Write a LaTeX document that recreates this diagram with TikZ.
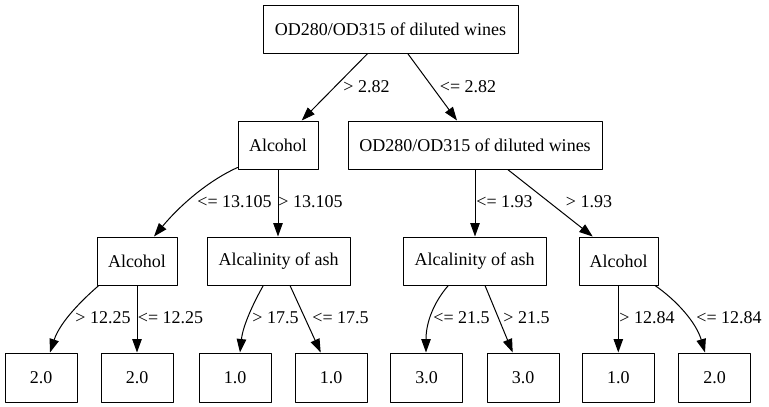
\documentclass[tikz,border=0pt]{standalone}
\usepackage{fontspec}
\setmainfont{Liberation Serif}
\usetikzlibrary{arrows.meta}
\usetikzlibrary{positioning}

\begin{document}
\begin{tikzpicture}[line cap=round,line join=round,x=1pt,y=-1pt,
  font=\fontsize{18}{22}\selectfont,
  split/.style={draw, line width=1pt, inner sep=0pt, minimum height=48pt},
  leaf/.style={draw, line width=1pt, inner sep=0pt, minimum height=49pt, minimum width=72pt},
  edge/.style={line width=1pt, -{Triangle[length=13.5pt, width=9.5pt]}}]
\useasboundingbox (0,0) rectangle (769,407);
% splits
\node [split, minimum width=255pt] (root) at (390.5,29) {OD280/OD315 of diluted wines};
\node [split, minimum width=80pt] (alc1) at (278,145) {Alcohol};
\node [split, minimum width=254pt] (od1) at (475,145) {OD280/OD315 of diluted wines};
\node [split, minimum width=80pt] (alc2) at (137,261) {Alcohol};
\node [split, minimum width=143pt] (ash2) at (278.5,261) {Alcalinity of ash};
\node [split, minimum width=143pt] (ash3) at (474.5,261) {Alcalinity of ash};
\node [split, minimum width=79pt] (alc3) at (618.5,261) {Alcohol};
% leaves
\node [leaf] (l1) at (41,377.5) {2.0};
\node [leaf] (l2) at (137,377.5) {2.0};
\node [leaf] (l3) at (235,377.5) {1.0};
\node [leaf] (l4) at (331,377.5) {1.0};
\node [leaf] (l5) at (426.5,377.5) {3.0};
\node [leaf] (l6) at (523,377.5) {3.0};
\node [leaf] (l7) at (618.3,377.5) {1.0};
\node [leaf] (l8) at (714.5,377.5) {2.0};
% edges
\draw [edge] ([xshift=-22.8pt]root.south) -- ([xshift=23.7pt]alc1.north);
\draw [edge] ([xshift=17.2pt]root.south) -- ([xshift=-18pt]od1.north);
\draw [edge] ([yshift=2pt]alc1.south west) .. controls (210,180) and (182,203) .. ([xshift=17pt]alc2.north);
\draw [edge] (alc1.south) -- (alc1.south |- ash2.north);
\draw [edge] (od1.south) -- (od1.south |- ash3.north);
\draw [edge] ([xshift=32.7pt]od1.south) -- ([xshift=-25.8pt]alc3.north);
\draw [edge] ([xshift=2.3pt]alc2.south west) .. controls (82,300) and (60,322) .. ([xshift=9pt]l1.north);
\draw [edge] (alc2.south) -- (alc2.south |- l2.north);
\draw [edge] ([xshift=-15.2pt]ash2.south) .. controls (254,302) and (243,325) .. ([xshift=5pt]l3.north);
\draw [edge] ([xshift=11.5pt]ash2.south) -- ([xshift=-10.3pt]l4.north);
\draw [edge] ([xshift=-26.2pt]ash3.south) .. controls (434,302) and (426,322) .. ([xshift=-0.5pt]l5.north);
\draw [edge] ([xshift=10.5pt]ash3.south) -- ([xshift=-10.3pt]l6.north);
\draw [edge] ([xshift=-0.2pt]alc3.south) -- ([xshift=-0.2pt]alc3.south |- l7.north);
\draw [edge] ([xshift=36.5pt]alc3.south) .. controls (676,300) and (696,322) .. ([xshift=-9.5pt]l8.north);
% labels
\draw (366.5,87) node {> 2.82};
\draw (468,87) node {<= 2.82};
\draw (234.5,202) node {<= 13.105};
\draw (310.5,202) node {> 13.105};
\draw (504.5,202) node {<= 1.93};
\draw (589,202) node {> 1.93};
\draw (103,318) node {> 12.25};
\draw (170.5,318) node {<= 12.25};
\draw (275.5,318) node {> 17.5};
\draw (340.5,318) node {<= 17.5};
\draw (461.5,318) node {<= 21.5};
\draw (526.5,318) node {> 21.5};
\draw (647,318) node {> 12.84};
\draw (729,318) node {<= 12.84};
\end{tikzpicture}
\end{document}
